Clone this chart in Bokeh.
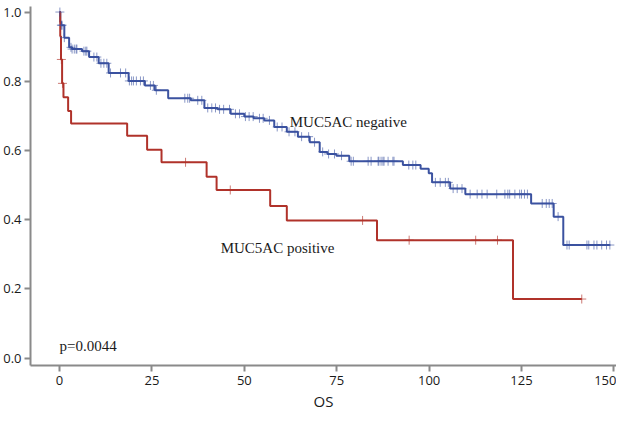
import numpy as np
from bokeh.plotting import figure
from bokeh.models import Range1d, Label, FixedTicker, CustomJSTickFormatter
from bokeh.embed import file_html
from bokeh.resources import INLINE

# MUC5AC negative (blue) Kaplan-Meier steps
neg_times = [0, 0.2, 0.45, 1.3, 2.6, 3.4, 6.1, 8.0, 10.6, 13.3, 18.7, 23.1, 25.8, 29.4,
             35.5, 39.2, 42.8, 46.3, 50.0, 52.5, 55.4, 58.1, 61.5, 64.5, 67.7, 70.4,
             72.5, 74.9, 78.4, 92.9, 97.7, 99.9, 100.8, 105.7, 109.8, 127.6, 133.7,
             136.3, 148.9]
neg_surv = [1.0, 0.971, 0.962, 0.926, 0.898, 0.893, 0.887, 0.870, 0.852, 0.824, 0.801,
            0.788, 0.774, 0.751, 0.745, 0.723, 0.719, 0.706, 0.698, 0.693, 0.687, 0.668,
            0.654, 0.640, 0.624, 0.596, 0.590, 0.585, 0.569, 0.558, 0.547, 0.534, 0.508,
            0.490, 0.474, 0.447, 0.409, 0.327, 0.327]
neg_censor = [0.1, 0.5, 0.7, 1.3, 3.1, 3.4, 4.0, 4.5, 4.7, 6.6, 7.1, 7.4, 9.3, 10.1,
              11.2, 12.0, 12.8, 13.8, 16.5, 17.9, 18.9, 19.5, 20.0, 20.8, 21.9, 22.7,
              24.6, 25.4, 26.2, 33.9, 34.7, 35.2, 37.4, 38.5, 40.1, 41.2, 42.2, 43.3,
              44.4, 46.0, 47.6, 48.7, 50.3, 51.3, 52.4, 54.1, 55.1, 56.8, 58.9, 60.2,
              62.1, 63.7, 65.5, 67.4, 69.0, 71.2, 72.8, 74.4, 76.3, 78.9, 79.5, 83.5,
              84.3, 86.2, 86.4, 87.0, 87.5, 87.8, 88.9, 90.2, 90.5, 94.5, 95.6, 96.4,
              101.7, 103.0, 104.4, 105.2, 106.5, 107.6, 108.9, 111.1, 113.0, 114.3,
              115.7, 118.3, 120.5, 121.3, 121.8, 123.2, 124.5, 125.0, 125.8, 126.6,
              130.6, 131.7, 132.5, 133.3, 134.9, 137.3, 137.9, 142.7, 143.2, 144.6,
              145.4, 146.7, 148.0, 148.9]

# MUC5AC positive (red) Kaplan-Meier steps
pos_times = [0, 0.2, 0.4, 0.7, 1.07, 2.33, 3.13, 18.3, 23.7, 27.6, 39.8, 42.5, 57.0,
             61.5, 85.9, 122.7, 141.3]
pos_surv = [1.0, 0.93, 0.863, 0.794, 0.754, 0.714, 0.678, 0.643, 0.602, 0.566, 0.524,
            0.486, 0.44, 0.398, 0.341, 0.171, 0.171]
pos_censor = [0.5, 0.8, 34.1, 46.2, 82.0, 94.6, 112.6, 118.5, 141.3]

x_ticks = [0, 25, 50, 75, 100, 125, 150]
y_ticks = [0.0, 0.2, 0.4, 0.6, 0.8, 1.0]
x_label = "OS"
label_neg = "MUC5AC negative"
label_pos = "MUC5AC positive"
p_text = "p=0.0044"

BLUE = "#3b52a0"
RED = "#b0322a"
AXIS = "#8a8a8a"


def surv_at(times, surv, pts):
    t = np.asarray(times)
    s = np.asarray(surv)
    idx = np.searchsorted(t, np.asarray(pts), side="right") - 1
    return s[idx]


p = figure(width=616, height=413, output_backend="svg", toolbar_location=None,
           x_range=Range1d(-7.85, 150.7), y_range=Range1d(-0.021, 1.016),
           min_border_top=6, min_border_right=0, min_border_left=0, min_border_bottom=0)
p.outline_line_color = None
p.xgrid.visible = False
p.ygrid.visible = False
p.background_fill_color = "white"

p.step(neg_times, neg_surv, mode="after", line_color=BLUE, line_width=2)
p.step(pos_times, pos_surv, mode="after", line_color=RED, line_width=2)

p.scatter(neg_censor, surv_at(neg_times, neg_surv, neg_censor), marker="cross",
          size=9, line_color=BLUE, line_alpha=0.6, line_width=1)
p.scatter(pos_censor, surv_at(pos_times, pos_surv, pos_censor), marker="cross",
          size=9, line_color=RED, line_alpha=0.65, line_width=1)

for ax in (p.xaxis[0], p.yaxis[0]):
    ax.axis_line_color = AXIS
    ax.axis_line_width = 2
    ax.major_tick_line_color = AXIS
    ax.major_tick_line_width = 2
    ax.major_tick_out = 6
    ax.major_tick_in = 0
    ax.minor_tick_line_color = None
    ax.major_label_text_font = "Open Sans"
    ax.major_label_text_font_size = "13px"
    ax.major_label_text_color = "#1a1a1a"

p.xaxis.ticker = FixedTicker(ticks=x_ticks)
p.yaxis.ticker = FixedTicker(ticks=y_ticks)
p.yaxis.formatter = CustomJSTickFormatter(code="return tick.toFixed(1);")
p.xaxis.major_label_standoff = 4
p.yaxis.major_label_standoff = 3
p.xaxis.axis_label = x_label
p.xaxis.axis_label_text_font = "Open Sans"
p.xaxis.axis_label_text_font_style = "normal"
p.xaxis.axis_label_text_font_size = "15px"
p.xaxis.axis_label_text_color = "#1a1a1a"
p.xaxis.axis_label_standoff = 3

for txt, x, y in ((label_neg, 62.3, 0.683), (label_pos, 43.6, 0.318), (p_text, 0.0, 0.036)):
    p.add_layout(Label(x=x, y=y, text=txt, text_font="Liberation Serif",
                       text_font_size="15px", text_color="#1a1a1a",
                       text_baseline="alphabetic"))

open("out.html", "w").write(file_html(p, INLINE))
